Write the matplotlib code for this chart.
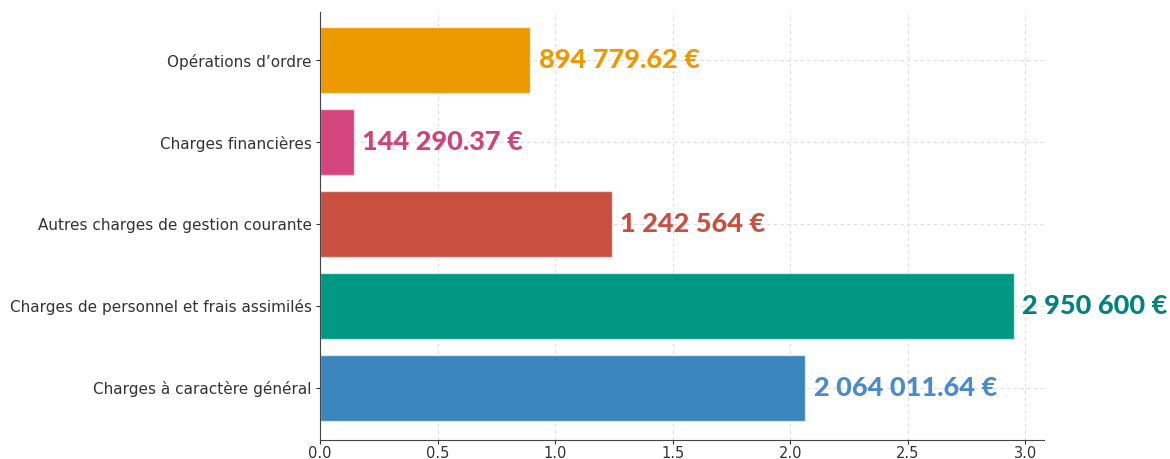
import numpy as np
import matplotlib
matplotlib.use("Agg")
import matplotlib.pyplot as plt

categories = ["Charges à caractère général",
              "Charges de personnel et frais assimilés",
              "Autres charges de gestion courante",
              "Charges financières",
              "Opérations d’ordre"]
values = [2064011.64, 2950600, 1242564, 144290.37, 894779.62]
labels = ["2 064 011.64 €", "2 950 600 €", "1 242 564 €",
          "144 290.37 €", "894 779.62 €"]
bar_colors = ["#3A85BC", "#009882", "#C94F40", "#D4467D", "#EC9A00"]
text_colors = ["#4A8BD0", "#00837F", "#C94F40", "#D0437A", "#EC9A00"]

fig = plt.figure(figsize=(11.7, 4.59), dpi=100)
ax = fig.add_axes([0.2735, 0.041, 0.619, 0.933])

vals = np.array(values) / 1e6
y = np.arange(len(categories))
ax.barh(y, vals, height=0.8, color=bar_colors, edgecolor=(1, 1, 1, 0.6),
        linewidth=1, zorder=2)
for yi, v, lab, c in zip(y, vals, labels, text_colors):
    ax.text(v + 0.035, yi, lab, va="center", ha="left", color=c,
            fontsize=19.5, fontweight="black", family="Lato", zorder=3)

ax.set_yticks(y)
ax.set_yticklabels(categories)
ax.set_ylim(-0.64, 4.59)
ax.set_xlim(0, 3.08)
ax.set_xticks(np.arange(0, 3.01, 0.5))
ax.tick_params(axis="y", labelsize=11, colors="#333333", length=3, pad=3)
ax.tick_params(axis="x", labelsize=10.5, colors="#333333", length=3, pad=1)
ax.grid(True, linestyle=(0, (3, 3)), color="#dcdcdc", linewidth=0.8, zorder=0)
ax.set_axisbelow(True)
for s in ["top", "right"]:
    ax.spines[s].set_visible(False)
for s in ["left", "bottom"]:
    ax.spines[s].set_color("#444444")

fig.savefig("out.png", dpi=100)
